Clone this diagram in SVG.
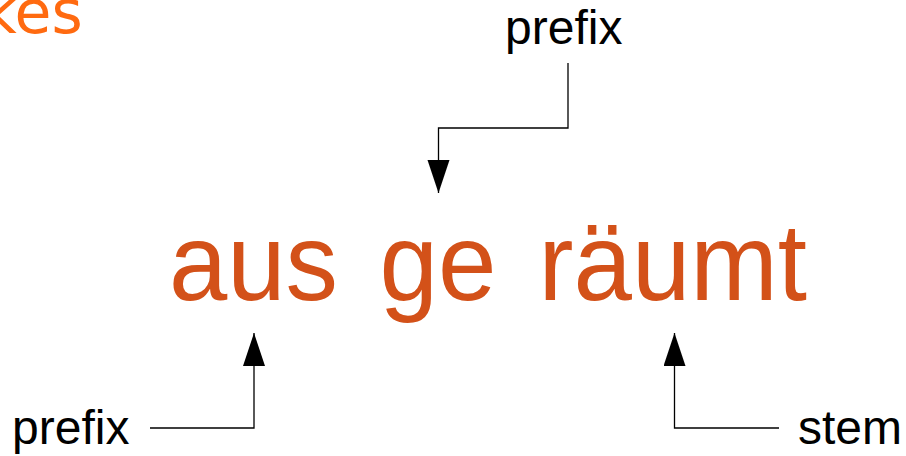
<svg xmlns="http://www.w3.org/2000/svg" width="906" height="456" viewBox="0 0 906 456">
  <style>
    .lbl { font-family: "Liberation Sans", Arial, sans-serif; font-size: 48px; fill: #000; }
    .word { font-family: "Liberation Sans", Arial, sans-serif; font-size: 110px; fill: #D35119; }
    .title { font-family: "DejaVu Sans", sans-serif; font-size: 60px; fill: #FF6A10; }
    .conn { fill: none; stroke: #000; stroke-width: 1.3; }
  </style>
  <defs>
    <marker id="arr" markerUnits="userSpaceOnUse" markerWidth="34" markerHeight="23" refX="33" refY="11" orient="auto" viewBox="0 0 34 23">
      <path d="M0,0 L33,11 L0,22 z" fill="#000"/>
    </marker>
  </defs>
  <rect width="906" height="456" fill="#fff"/>
  <g id="title"><text class="title" x="-18" y="33">kes</text></g>
  <g id="word-aus"><text class="word" x="169" y="300" textLength="169" lengthAdjust="spacingAndGlyphs">aus</text></g>
  <g id="word-ge"><text class="word" x="379.5" y="300" textLength="117" lengthAdjust="spacingAndGlyphs">ge</text></g>
  <g id="word-raeumt"><text class="word" x="538.5" y="300" textLength="268.5" lengthAdjust="spacingAndGlyphs">räumt</text></g>
  <g id="label-prefix-top"><text class="lbl" x="505" y="44">prefix</text></g>
  <g id="label-prefix-bottom"><text class="lbl" x="12" y="444">prefix</text></g>
  <g id="label-stem"><text class="lbl" x="798" y="444">stem</text></g>
  <g id="connectors">
    <path class="conn" d="M568,63 V128 H438.5 V193" marker-end="url(#arr)"/>
    <path class="conn" d="M150,428 H254 V333" marker-end="url(#arr)"/>
    <path class="conn" d="M779,428 H674.5 V333" marker-end="url(#arr)"/>
  </g>
</svg>
